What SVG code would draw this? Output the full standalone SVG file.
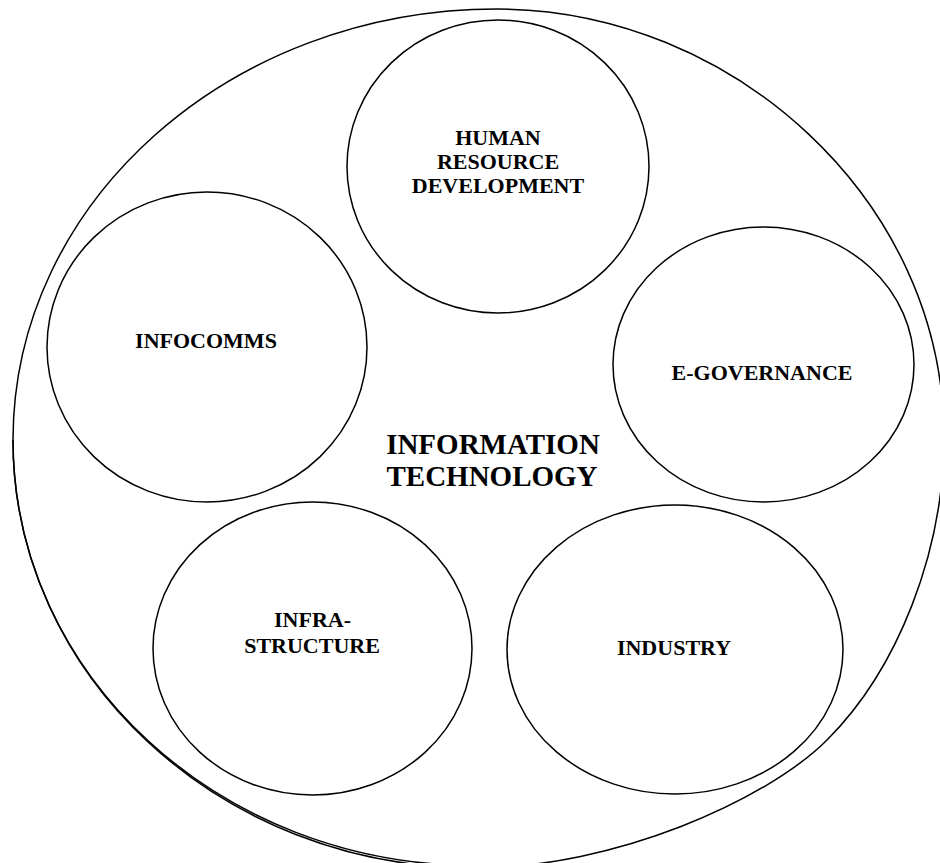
<svg xmlns="http://www.w3.org/2000/svg" width="940" height="863" viewBox="0 0 940 863">
<style>
.sh{fill:none;stroke:#000;stroke-width:1.5}
.lb{font-family:"Liberation Serif","Times New Roman",serif;font-weight:bold;font-size:22px;fill:#000;text-anchor:middle}
.tt{font-family:"Liberation Serif","Times New Roman",serif;font-weight:bold;font-size:29px;fill:#000;text-anchor:middle}
</style>
<rect width="940" height="863" fill="#fff"/>
<g id="information-technology">
<path class="sh" d="M497,9 C732,9 944,200 944,437 C944,552 897.7,669.3 827,740 C767,800 615,868 475,868 C219.8,868 13,675.3 13,440 C13,202 229.7,9 497,9 Z"/>
<path class="sh" d="M475,865.5 C220,865.5 13,675.3 13,440"/>
<text class="tt" x="493" y="454">INFORMATION</text>
<text class="tt" x="492" y="486">TECHNOLOGY</text>
</g>
<g id="human-resource-development">
<ellipse class="sh" cx="498" cy="166.5" rx="151" ry="146.5"/>
<text class="lb" x="498" y="145">HUMAN</text>
<text class="lb" x="498" y="169">RESOURCE</text>
<text class="lb" x="498" y="193">DEVELOPMENT</text>
</g>
<g id="infocomms">
<ellipse class="sh" cx="207" cy="347" rx="160" ry="155"/>
<text class="lb" x="206" y="348">INFOCOMMS</text>
</g>
<g id="e-governance">
<ellipse class="sh" cx="763.5" cy="364.5" rx="150.5" ry="137.5"/>
<text class="lb" x="762" y="380">E-GOVERNANCE</text>
</g>
<g id="infrastructure">
<ellipse class="sh" cx="312.5" cy="648.5" rx="159.5" ry="146.5"/>
<text class="lb" x="312.5" y="627">INFRA-</text>
<text class="lb" x="312" y="653">STRUCTURE</text>
</g>
<g id="industry">
<ellipse class="sh" cx="675" cy="649.5" rx="168" ry="144.5"/>
<text class="lb" x="674" y="655">INDUSTRY</text>
</g>
<g id="connectors"/>
</svg>
